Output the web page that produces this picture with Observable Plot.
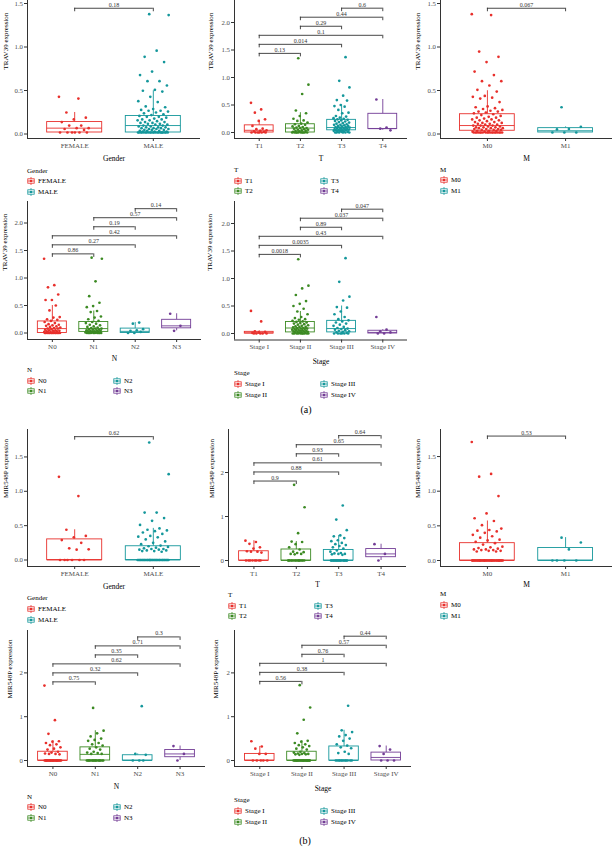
<!DOCTYPE html>
<html><head><meta charset="utf-8">
<script src="https://cdn.jsdelivr.net/npm/d3@7"></script>
<script src="https://cdn.jsdelivr.net/npm/@observablehq/plot@0.6"></script>
<style>
body{margin:0;background:#fff;}
#page{position:relative;width:613px;height:847px;overflow:hidden;background:#fff;font-family:"Liberation Serif",serif;color:#000;}
.panel{position:absolute;}
.panel svg{overflow:visible;max-width:none;}
.legtitle,.legitem{position:absolute;font-size:7px;line-height:8px;white-space:nowrap;color:#000;}
.legitem svg{position:absolute;left:0;top:0;}
.legitem span{position:absolute;left:11px;top:0;}
.cap{position:absolute;font-size:10px;line-height:12px;transform:translate(-50%,-50%);}
</style></head><body><div id="page"></div>
<script>
// ---------- categories ----------
const genderCats = ["FEMALE", "MALE"];
const tCats = ["T1", "T2", "T3", "T4"];
const mCats = ["M0", "M1"];
const nCats = ["N0", "N1", "N2", "N3"];
const stageCats = ["Stage I", "Stage II", "Stage III", "Stage IV"];
const colors2 = ["#E8302C", "#14979B"];
const colors4 = ["#E8302C", "#3C8A23", "#14979B", "#733D96"];
const pairs2 = [[0, 1]];
const pairs4 = [[0, 1], [0, 2], [0, 3], [1, 2], [1, 3], [2, 3]];

// ---------- (a) TRAV39 ----------
const travGenderBox = [[0, 0, 0.05, 0.12, 0.23], [0, 0, 0.08, 0.19, 0.48]];
const travGenderPts = [
  [0.41, 0.39, 0.23, 0.17, 0.15, 0.12, 0.08, 0.08, 0.05, 0.05, 0.04, 0.03, 0, 0, 0, 0, 0, 0],
  [1.36, 1.35, 0.94, 0.87, 0.81, 0.70, 0.66, 0.59, 0.59, 0.54, 0.49, 0.48, 0.47, 0.41, 0.36, 0.35, 0.30, 0.29, 0.27, 0.26, 0.25, 0.25, 0.24, 0.23, 0.22, 0.21, 0.20, 0.19, 0.18, 0.18, 0.17, 0.16, 0.15, 0.15, 0.14, 0.14, 0.13, 0.12, 0.12, 0.11, 0.11, 0.10, 0.10, 0.09, 0.09, 0.08, 0.08, 0.07, 0.07, 0.06, 0.06, 0.06, 0.05, 0.05, 0.05, 0.04, 0.04, 0.04, 0.03, 0.03, 0.03, 0.02, 0.02, 0.02, 0.01, 0.01, 0.01, 0, 0, 0, 0, 0, 0, 0, 0, 0, 0, 0, 0, 0, 0, 0, 0, 0, 0, 0, 0, 0, 0]
];
const travGenderP = ["0.18"];

const travTBox = [[0, 0, 0.04, 0.13, 0.22], [0, 0, 0.08, 0.15, 0.36], [0, 0.04, 0.09, 0.23, 0.50], [0.04, 0.065, 0.07, 0.34, 0.60]];
const travTPts = [
  [0.54, 0.42, 0.36, 0.24, 0.21, 0.12, 0.07, 0.06, 0.04, 0.03, 0.02, 0.01, 0, 0, 0, 0, 0, 0],
  [1.35, 0.87, 0.70, 0.40, 0.35, 0.30, 0.25, 0.22, 0.21, 0.18, 0.16, 0.15, 0.14, 0.12, 0.11, 0.10, 0.09, 0.08, 0.08, 0.07, 0.06, 0.05, 0.05, 0.04, 0.03, 0.03, 0.02, 0.01, 0, 0, 0, 0, 0, 0, 0, 0, 0, 0],
  [1.37, 0.94, 0.82, 0.67, 0.59, 0.58, 0.50, 0.48, 0.47, 0.41, 0.36, 0.35, 0.30, 0.29, 0.27, 0.26, 0.25, 0.24, 0.23, 0.22, 0.21, 0.20, 0.19, 0.18, 0.17, 0.16, 0.15, 0.14, 0.14, 0.13, 0.12, 0.12, 0.11, 0.10, 0.10, 0.09, 0.09, 0.08, 0.08, 0.07, 0.07, 0.06, 0.06, 0.05, 0.05, 0.04, 0.04, 0.04, 0.03, 0.03, 0.02, 0.02, 0.01, 0.01, 0, 0, 0, 0, 0, 0],
  [0.60, 0.09, 0.07, 0.04]
];
const travTP = ["0.13", "0.014", "0.1", "0.29", "0.44", "0.6"];

const travMBox = [[0, 0.02, 0.08, 0.21, 0.48], [0, 0, 0.02, 0.05, 0.065]];
const travMPts = [
  [1.36, 1.35, 0.93, 0.87, 0.81, 0.70, 0.66, 0.59, 0.59, 0.54, 0.49, 0.47, 0.42, 0.41, 0.40, 0.39, 0.35, 0.30, 0.29, 0.28, 0.27, 0.26, 0.25, 0.24, 0.24, 0.23, 0.22, 0.21, 0.20, 0.19, 0.18, 0.17, 0.17, 0.16, 0.15, 0.15, 0.14, 0.14, 0.13, 0.12, 0.12, 0.11, 0.11, 0.10, 0.10, 0.09, 0.09, 0.08, 0.08, 0.08, 0.07, 0.07, 0.06, 0.06, 0.06, 0.05, 0.05, 0.05, 0.04, 0.04, 0.04, 0.03, 0.03, 0.03, 0.02, 0.02, 0.02, 0.01, 0.01, 0, 0, 0, 0, 0, 0, 0, 0, 0, 0, 0, 0, 0, 0, 0, 0, 0, 0, 0],
  [0.29, 0.065, 0.04, 0.035, 0, 0, 0]
];
const travMP = ["0.067"];

const travNBox = [[0, 0, 0.08, 0.21, 0.50], [0, 0.02, 0.08, 0.20, 0.40], [0, 0, 0.03, 0.08, 0.19], [0.04, 0.085, 0.13, 0.24, 0.35]];
const travNPts = [
  [1.35, 0.87, 0.83, 0.70, 0.60, 0.60, 0.50, 0.41, 0.29, 0.28, 0.25, 0.24, 0.22, 0.20, 0.18, 0.16, 0.15, 0.14, 0.13, 0.12, 0.11, 0.10, 0.09, 0.08, 0.08, 0.07, 0.06, 0.05, 0.05, 0.04, 0.04, 0.03, 0.03, 0.02, 0.02, 0.01, 0.01, 0, 0, 0, 0, 0, 0, 0, 0, 0, 0, 0, 0, 0],
  [1.37, 1.35, 0.94, 0.67, 0.55, 0.49, 0.47, 0.40, 0.38, 0.30, 0.28, 0.25, 0.22, 0.20, 0.18, 0.17, 0.15, 0.14, 0.12, 0.11, 0.10, 0.09, 0.08, 0.08, 0.07, 0.06, 0.06, 0.05, 0.05, 0.04, 0.04, 0.03, 0.03, 0.02, 0.02, 0.01, 0.01, 0, 0, 0, 0, 0, 0, 0, 0, 0, 0],
  [0.19, 0.17, 0.07, 0.05, 0.04, 0.02, 0, 0],
  [0.35, 0.13, 0.04]
];
const travNP = ["0.86", "0.27", "0.42", "0.19", "0.57", "0.14"];

const travStageBox = [[0, 0, 0.01, 0.03, 0.05], [0, 0.02, 0.10, 0.21, 0.40], [0, 0.02, 0.09, 0.23, 0.50], [0, 0, 0.02, 0.05, 0.07]];
const travStagePts = [
  [0.41, 0.22, 0.04, 0.03, 0.02, 0.01, 0, 0, 0, 0, 0],
  [1.35, 0.87, 0.82, 0.70, 0.59, 0.54, 0.50, 0.45, 0.40, 0.35, 0.30, 0.28, 0.26, 0.25, 0.23, 0.22, 0.21, 0.20, 0.19, 0.18, 0.17, 0.16, 0.15, 0.14, 0.13, 0.12, 0.12, 0.11, 0.10, 0.10, 0.09, 0.09, 0.08, 0.08, 0.07, 0.07, 0.06, 0.06, 0.05, 0.05, 0.04, 0.04, 0.03, 0.03, 0.02, 0.02, 0.01, 0.01, 0, 0, 0, 0, 0, 0, 0, 0, 0, 0],
  [1.37, 0.94, 0.67, 0.60, 0.48, 0.47, 0.40, 0.35, 0.30, 0.26, 0.24, 0.22, 0.20, 0.18, 0.16, 0.14, 0.12, 0.10, 0.09, 0.08, 0.07, 0.06, 0.05, 0.04, 0.03, 0.02, 0.01, 0, 0, 0, 0, 0, 0],
  [0.30, 0.07, 0.04, 0.02, 0, 0]
];
const travStageP = ["0.0018", "0.0035", "0.43", "0.89", "0.037", "0.047"];

// ---------- (b) MIR548P ----------
const mirGenderBox = [[0, 0, 0, 0.30, 0.44], [0, 0, 0, 0.20, 0.46]];
const mirGenderPts = [
  [1.21, 0.93, 0.44, 0.35, 0.33, 0.29, 0.25, 0.17, 0.155, 0.15, 0, 0, 0, 0, 0, 0],
  [1.71, 1.25, 0.69, 0.69, 0.61, 0.57, 0.51, 0.46, 0.44, 0.43, 0.42, 0.40, 0.38, 0.35, 0.34, 0.33, 0.30, 0.27, 0.25, 0.23, 0.21, 0.20, 0.19, 0.18, 0.17, 0.16, 0.16, 0.15, 0.15, 0.14, 0.14, 0.13, 0.13, 0.12, 0, 0, 0, 0, 0, 0, 0, 0, 0, 0, 0, 0, 0, 0, 0, 0, 0, 0, 0, 0, 0, 0, 0, 0, 0, 0, 0, 0, 0, 0, 0, 0, 0, 0, 0]
];
const mirGenderP = ["0.62"];

const mirTBox = [[0, 0, 0, 0.21, 0.45], [0, 0, 0, 0.25, 0.43], [0, 0, 0, 0.24, 0.57], [0, 0.075, 0.15, 0.26, 0.37]];
const mirTPts = [
  [0.45, 0.42, 0.38, 0.30, 0.27, 0.21, 0.20, 0.20, 0.18, 0, 0, 0, 0, 0, 0, 0, 0],
  [1.72, 1.21, 0.62, 0.43, 0.42, 0.37, 0.30, 0.25, 0.20, 0.19, 0.17, 0.15, 0.15, 0.14, 0, 0, 0, 0, 0, 0, 0, 0, 0, 0, 0, 0, 0, 0, 0],
  [1.25, 0.93, 0.69, 0.57, 0.55, 0.51, 0.46, 0.44, 0.40, 0.37, 0.35, 0.33, 0.30, 0.27, 0.23, 0.20, 0.17, 0.16, 0.15, 0.15, 0.14, 0.13, 0, 0, 0, 0, 0, 0, 0, 0, 0, 0, 0, 0, 0, 0, 0, 0, 0, 0, 0, 0],
  [0.37, 0.15, 0]
];
const mirTP = ["0.9", "0.88", "0.61", "0.93", "0.65", "0.64"];

const mirMBox = [[0, 0, 0, 0.25, 0.57], [0, 0, 0, 0.18, 0.33]];
const mirMPts = [
  [1.71, 1.25, 1.21, 0.93, 0.68, 0.61, 0.57, 0.51, 0.46, 0.44, 0.43, 0.42, 0.40, 0.37, 0.35, 0.33, 0.30, 0.29, 0.27, 0.25, 0.23, 0.20, 0.19, 0.18, 0.17, 0.16, 0.16, 0.15, 0.15, 0.14, 0.14, 0.13, 0.13, 0, 0, 0, 0, 0, 0, 0, 0, 0, 0, 0, 0, 0, 0, 0, 0, 0, 0, 0, 0, 0, 0, 0, 0, 0, 0, 0, 0, 0, 0, 0, 0, 0, 0, 0, 0, 0, 0, 0],
  [0.33, 0.26, 0.16, 0, 0, 0, 0]
];
const mirMP = ["0.53"];

const mirNBox = [[0, 0, 0, 0.20, 0.45], [0, 0, 0.14, 0.30, 0.68], [0, 0, 0, 0.12, 0.15], [0, 0.075, 0.15, 0.24, 0.33]];
const mirNPts = [
  [1.71, 0.92, 0.61, 0.44, 0.43, 0.40, 0.37, 0.35, 0.30, 0.27, 0.25, 0.20, 0.18, 0.16, 0.15, 0.15, 0.14, 0, 0, 0, 0, 0, 0, 0, 0, 0, 0, 0, 0, 0, 0, 0, 0, 0, 0, 0, 0, 0, 0, 0, 0, 0],
  [1.20, 0.68, 0.62, 0.55, 0.50, 0.47, 0.45, 0.40, 0.37, 0.34, 0.30, 0.27, 0.25, 0.20, 0.18, 0.17, 0.15, 0.15, 0, 0, 0, 0, 0, 0, 0, 0, 0, 0, 0, 0, 0, 0, 0, 0, 0, 0],
  [1.24, 0.15, 0.13, 0, 0, 0],
  [0.33, 0.15, 0]
];
const mirNP = ["0.75", "0.32", "0.62", "0.35", "0.71", "0.3"];

const mirStageBox = [[0, 0, 0, 0.15, 0.32], [0, 0, 0, 0.20, 0.45], [0, 0, 0, 0.32, 0.69], [0, 0, 0.07, 0.18, 0.33]];
const mirStagePts = [
  [0.44, 0.32, 0.27, 0.15, 0.15, 0, 0, 0, 0, 0],
  [1.72, 1.21, 0.93, 0.62, 0.45, 0.43, 0.40, 0.37, 0.35, 0.33, 0.30, 0.27, 0.25, 0.20, 0.18, 0.17, 0.16, 0.15, 0.15, 0.14, 0.14, 0.13, 0, 0, 0, 0, 0, 0, 0, 0, 0, 0, 0, 0, 0, 0, 0, 0, 0, 0, 0, 0, 0, 0, 0, 0, 0],
  [1.25, 0.69, 0.65, 0.58, 0.55, 0.50, 0.45, 0.37, 0.34, 0.30, 0.28, 0.20, 0.17, 0.15, 0, 0, 0, 0, 0, 0, 0, 0, 0, 0, 0, 0],
  [0.33, 0.25, 0.15, 0, 0, 0]
];
const mirStageP = ["0.56", "0.38", "1", "0.76", "0.57", "0.44"];

// ---------- layout (page pixel geometry of each panel) ----------
const panels = [
  {cats: genderCats, colors: colors2, box: travGenderBox, pts: travGenderPts, pv: travGenderP, pairs: pairs2, ylabel: "TRAV39 expression", xlabel: "Gender",
   xL: 27, xR: 200, y0: 132, ppu: 87, bot: 138, top: 0, yt: [0, 0.5, 1, 1.5], fmt: ".1f", ytDx: 22, xtDy: 20, legY: 170.5, tdy: 1.5},
  {cats: tCats, colors: colors4, box: travTBox, pts: travTPts, pv: travTP, pairs: pairs4, ylabel: "TRAV39 expression", xlabel: "T",
   xL: 234, xR: 407, y0: 132, ppu: 55, bot: 138, top: 0, yt: [0, 0.5, 1, 1.5, 2], fmt: ".1f", ytDx: 24, xtDy: 20, legY: 170, tdy: 0},
  {cats: mCats, colors: colors2, box: travMBox, pts: travMPts, pv: travMP, pairs: pairs2, ylabel: "TRAV39 expression", xlabel: "M",
   xL: 440, xR: 612, y0: 132, ppu: 87, bot: 138, top: 0, yt: [0, 0.5, 1, 1.5], fmt: ".1f", ytDx: 23, xtDy: 20, legY: 169.5, tdy: 1.5},
  {cats: nCats, colors: colors4, box: travNBox, pts: travNPts, pv: travNP, pairs: pairs4, ylabel: "TRAV39 expression", xlabel: "N",
   xL: 27, xR: 201, y0: 332.5, ppu: 55, bot: 339, top: 201, yt: [0, 0.5, 1, 1.5, 2], fmt: ".1f", ytDx: 23, xtDy: 19, legY: 370, tdy: 0},
  {cats: stageCats, colors: colors4, box: travStageBox, pts: travStagePts, pv: travStageP, pairs: pairs4, ylabel: "TRAV39 expression", xlabel: "Stage",
   xL: 234, xR: 407, y0: 333, ppu: 55, bot: 339.5, top: 201, yt: [0, 0.5, 1, 1.5, 2], fmt: ".1f", ytDx: 25, xtDy: 22, legY: 373.3, tdy: 0},
  {cats: genderCats, colors: colors2, box: mirGenderBox, pts: mirGenderPts, pv: mirGenderP, pairs: pairs2, ylabel: "MIR548P expression", xlabel: "Gender",
   xL: 27, xR: 200, y0: 559.5, ppu: 68.7, bot: 566, top: 429, yt: [0, 0.5, 1, 1.5], fmt: ".1f", ytDx: 22, xtDy: 19.7, legY: 598.3, tdy: 0},
  {cats: tCats, colors: colors4, box: mirTBox, pts: mirTPts, pv: mirTP, pairs: pairs4, ylabel: "MIR548P expression", xlabel: "T",
   xL: 228, xR: 406, y0: 560, ppu: 44, bot: 566, top: 429, yt: [0, 1, 2], fmt: "d", ytDx: 17, xtDy: 18.5, legY: 595, tdy: 0},
  {cats: mCats, colors: colors2, box: mirMBox, pts: mirMPts, pv: mirMP, pairs: pairs2, ylabel: "MIR548P expression", xlabel: "M",
   xL: 440, xR: 612, y0: 560, ppu: 69.3, bot: 566, top: 429, yt: [0, 0.5, 1, 1.5], fmt: ".1f", ytDx: 23, xtDy: 18.5, legY: 594.3, tdy: 0},
  {cats: nCats, colors: colors4, box: mirNBox, pts: mirNPts, pv: mirNP, pairs: pairs4, ylabel: "MIR548P expression", xlabel: "N",
   xL: 27, xR: 205, y0: 760, ppu: 43.8, bot: 766, top: 630, yt: [0, 1, 2], fmt: "d", ytDx: 18, xtDy: 19.7, legY: 796.7, tdy: 0},
  {cats: stageCats, colors: colors4, box: mirStageBox, pts: mirStagePts, pv: mirStageP, pairs: pairs4, ylabel: "MIR548P expression", xlabel: "Stage",
   xL: 234, xR: 411, y0: 760, ppu: 43.8, bot: 766, top: 630, yt: [0, 1, 2], fmt: "d", ytDx: 19, xtDy: 22.3, legY: 800.3, tdy: 0}
];

const page = document.getElementById("page");
const AX = "#333333";

function drawPanel(P) {
  const n = P.cats.length;
  const ML = 34, MT = 10, MR = 4, MB = 30;
  const plotW = P.xR - P.xL, plotH = P.bot - P.top;
  const yDomain = [-(P.bot - P.y0) / P.ppu, (P.y0 - P.top) / P.ppu];
  const boxes = P.box.map((b, i) => ({i, lo: b[0], q1: b[1], med: b[2], q3: b[3], hi: b[4], c: P.colors[i]}));
  const dots = P.pts.flatMap((vals, i) => vals.map((v, k) => ({i, v, k, c: P.colors[i]})));
  const jit = d => d.i + ((((d.k * 0.6180339887 + d.i * 0.37) % 1) - 0.5) * 0.4);
  const maxV = d3.max(dots, d => d.v);
  const base = maxV * 1.05, step = maxV * 0.12, drop = 3.5 / P.ppu;
  const br = P.pairs.map(([a, b], j) => ({a, b, lvl: base + j * step, p: P.pv[j]}));
  const hw = 0.35;

  const svg = Plot.plot({
    width: ML + plotW + MR, height: MT + plotH + MB,
    marginLeft: ML, marginRight: MR, marginTop: MT, marginBottom: MB,
    x: {type: "linear", domain: [-0.6, n - 0.4]},
    y: {domain: yDomain},
    color: {type: "identity"},
    style: {fontFamily: "'Liberation Serif', serif", background: "transparent", overflow: "visible"},
    marks: [
      Plot.ruleX([-0.6], {stroke: AX, strokeWidth: 1}),
      Plot.ruleY([yDomain[0]], {stroke: AX, strokeWidth: 1}),
      Plot.axisY({ticks: P.yt, tickFormat: d3.format(P.fmt), tickSize: 3, tickPadding: 1.5, fontSize: 6.8, stroke: AX, fill: "#4d4d4d", label: null, textStroke: "none", dy: P.tdy}),
      Plot.axisX({ticks: d3.range(n), tickFormat: i => P.cats[i], tickSize: 3, tickPadding: 1.5, fontSize: 7, stroke: AX, fill: "#4d4d4d", label: null}),
      Plot.ruleX(boxes, {x: "i", y1: "q3", y2: "hi", stroke: "c", strokeWidth: 0.9}),
      Plot.ruleX(boxes, {x: "i", y1: "lo", y2: "q1", stroke: "c", strokeWidth: 0.9}),
      Plot.rect(boxes, {x1: d => d.i - hw, x2: d => d.i + hw, y1: "q1", y2: "q3", stroke: "c", fill: "white", strokeWidth: 0.9}),
      Plot.ruleY(boxes, {y: "med", x1: d => d.i - hw, x2: d => d.i + hw, stroke: "c", strokeWidth: 0.9}),
      Plot.dot(dots, {x: jit, y: "v", r: 1.35, fill: "c", stroke: "none"}),
      Plot.ruleY(br, {y: "lvl", x1: "a", x2: "b", stroke: AX, strokeWidth: 0.9}),
      Plot.ruleX(br, {x: "a", y1: "lvl", y2: d => d.lvl - drop, stroke: AX, strokeWidth: 0.9}),
      Plot.ruleX(br, {x: "b", y1: "lvl", y2: d => d.lvl - drop, stroke: AX, strokeWidth: 0.9}),
      Plot.text(br, {x: d => (d.a + d.b) / 2, y: "lvl", text: "p", dy: -1.5, lineAnchor: "bottom", fontSize: 6, fill: AX}),
      Plot.text([P.xlabel], {text: d => d, frameAnchor: "bottom", dy: P.xtDy, lineAnchor: "middle", fontSize: 7.5, fill: "#000"}),
      Plot.text([P.ylabel], {text: d => d, frameAnchor: "left", dx: -P.ytDx, rotate: -90, fontSize: 7, fill: "#000"})
    ]
  });
  const div = document.createElement("div");
  div.className = "panel";
  div.style.left = (P.xL - ML) + "px";
  div.style.top = (P.top - MT) + "px";
  div.style.width = (ML + plotW + MR) + "px";
  div.appendChild(svg);
  page.appendChild(div);

  // legend
  const t = document.createElement("div");
  t.className = "legtitle";
  t.textContent = P.xlabel;
  t.style.left = P.xL + "px";
  t.style.top = (P.legY - 4) + "px";
  page.appendChild(t);
  P.cats.forEach((c, i) => {
    const col = Math.floor(i / 2), row = i % 2;
    const it = document.createElement("div");
    it.className = "legitem";
    it.style.left = (P.xL + col * 86) + "px";
    it.style.top = (P.legY + 10.5 + row * 10.8 - 4) + "px";
    const col_ = P.colors[i];
    it.innerHTML = `<svg width="8" height="8" viewBox="0 0 8 8"><line x1="4" y1="0" x2="4" y2="8" stroke="${col_}" stroke-width="0.8"/><rect x="0.8" y="1.8" width="6.4" height="4.4" fill="#fff" stroke="${col_}" stroke-width="0.8"/><line x1="0.8" y1="4" x2="7.2" y2="4" stroke="${col_}" stroke-width="0.8"/><circle cx="4" cy="4" r="1.3" fill="${col_}"/></svg><span>${c}</span>`;
    page.appendChild(it);
  });
}

panels.forEach(drawPanel);

const capA = document.createElement("div");
capA.className = "cap"; capA.textContent = "(a)";
capA.style.left = "306px"; capA.style.top = "410px";
page.appendChild(capA);
const capB = document.createElement("div");
capB.className = "cap"; capB.textContent = "(b)";
capB.style.left = "305px"; capB.style.top = "840.5px";
page.appendChild(capB);
</script>
</body></html>
